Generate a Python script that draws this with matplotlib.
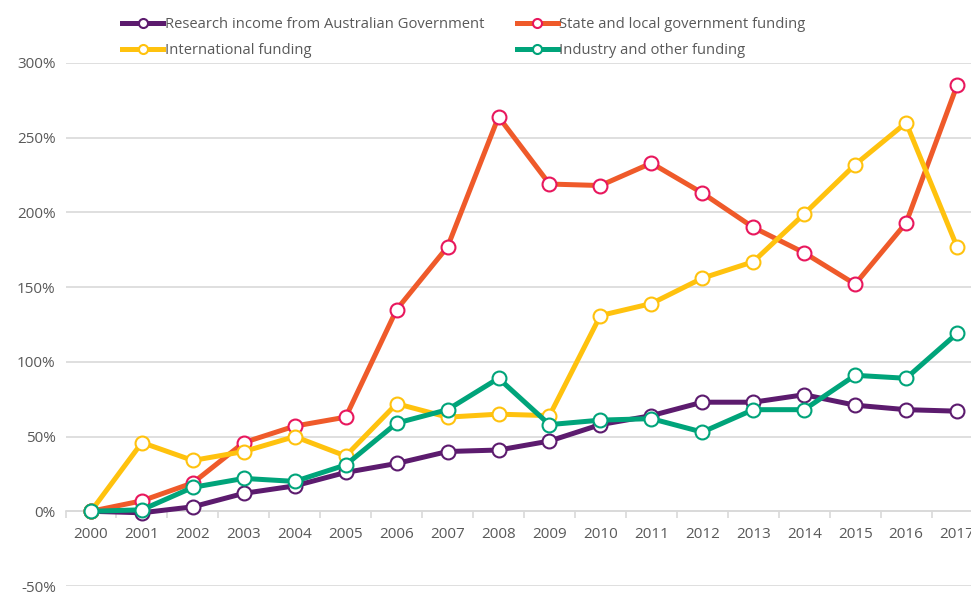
import matplotlib.pyplot as plt
from matplotlib.ticker import FixedLocator, FuncFormatter

years = [str(y) for y in range(2000, 2018)]

research_income = [0, -1, 3, 12, 17, 26, 32, 40, 41, 47, 58, 64, 73, 73, 78, 71, 68, 67]
state_local = [0, 7, 19, 46, 57, 63, 135, 177, 264, 219, 218, 233, 213, 190, 173, 152, 193, 285]
international = [0, 46, 34, 40, 50, 37, 72, 63, 65, 64, 131, 139, 156, 167, 199, 232, 260, 177]
industry_other = [0, 1, 16, 22, 20, 31, 59, 68, 89, 58, 61, 62, 53, 68, 68, 91, 89, 119]

series = [
  ('Research income from Australian Government', research_income, '#5C1B6E', '#5C1B6E'),
  ('State and local government funding', state_local, '#EF5A2A', '#E8175D'),
  ('International funding', international, '#FFC20E', '#FFC20E'),
  ('Industry and other funding', industry_other, '#00A47A', '#00A47A'),
]

plt.rcParams['font.family'] = ['Open Sans', 'DejaVu Sans']
grey = '#595959'

fig = plt.figure(figsize=(9.71, 5.94), dpi=100)
# the plot area runs past the right edge, as in the original (2017 label is cut)
ax = fig.add_axes([65.5 / 971, 8 / 594, 917 / 971, (586 - 63) / 594])

x = list(range(len(years)))
handles = []
for label, vals, col, edge in series:
  h, = ax.plot(x, vals, color=col, lw=3.6, marker='o', ms=10, mfc='white',
               mec=edge, mew=1.5, label=label, solid_joinstyle='round', zorder=3)
  handles.append(h)

ax.set_xlim(-0.5, len(years) - 0.5)
ax.set_ylim(-50, 300)
ax.yaxis.set_major_locator(FixedLocator(range(-50, 301, 50)))
ax.yaxis.set_major_formatter(FuncFormatter(lambda v, p: f'{int(v)}%'))
ax.grid(axis='y', color='#D9D9D9', lw=1.2)
ax.set_axisbelow(True)

ax.set_xticks(x)
ax.set_xticklabels(years)
ax.set_xticks([i - 0.5 for i in range(len(years) + 1)], minor=True)
ax.tick_params(axis='x', which='major', length=0, pad=11, labelsize=11, labelcolor=grey)
ax.tick_params(axis='x', which='minor', length=5, color='#D9D9D9', width=1.2)
ax.tick_params(axis='y', length=0, pad=7, labelsize=11, labelcolor=grey)

for s in ['top', 'right', 'left']:
  ax.spines[s].set_visible(False)
ax.spines['bottom'].set_position(('data', 0))
ax.spines['bottom'].set_color('#D9D9D9')
ax.spines['bottom'].set_linewidth(1.2)

order = [0, 2, 1, 3]
leg = fig.legend([handles[i] for i in order], [series[i][0] for i in order],
                 ncol=2, loc='upper left', bbox_to_anchor=(106 / 971, 0.998),
                 frameon=False, fontsize=10.6, handlelength=2.8, columnspacing=2.2,
                 labelspacing=0.75, handletextpad=0.1, borderpad=0.6, markerscale=0.65)
for t in leg.get_texts():
  t.set_color(grey)

fig.savefig('out.png', dpi=100)
